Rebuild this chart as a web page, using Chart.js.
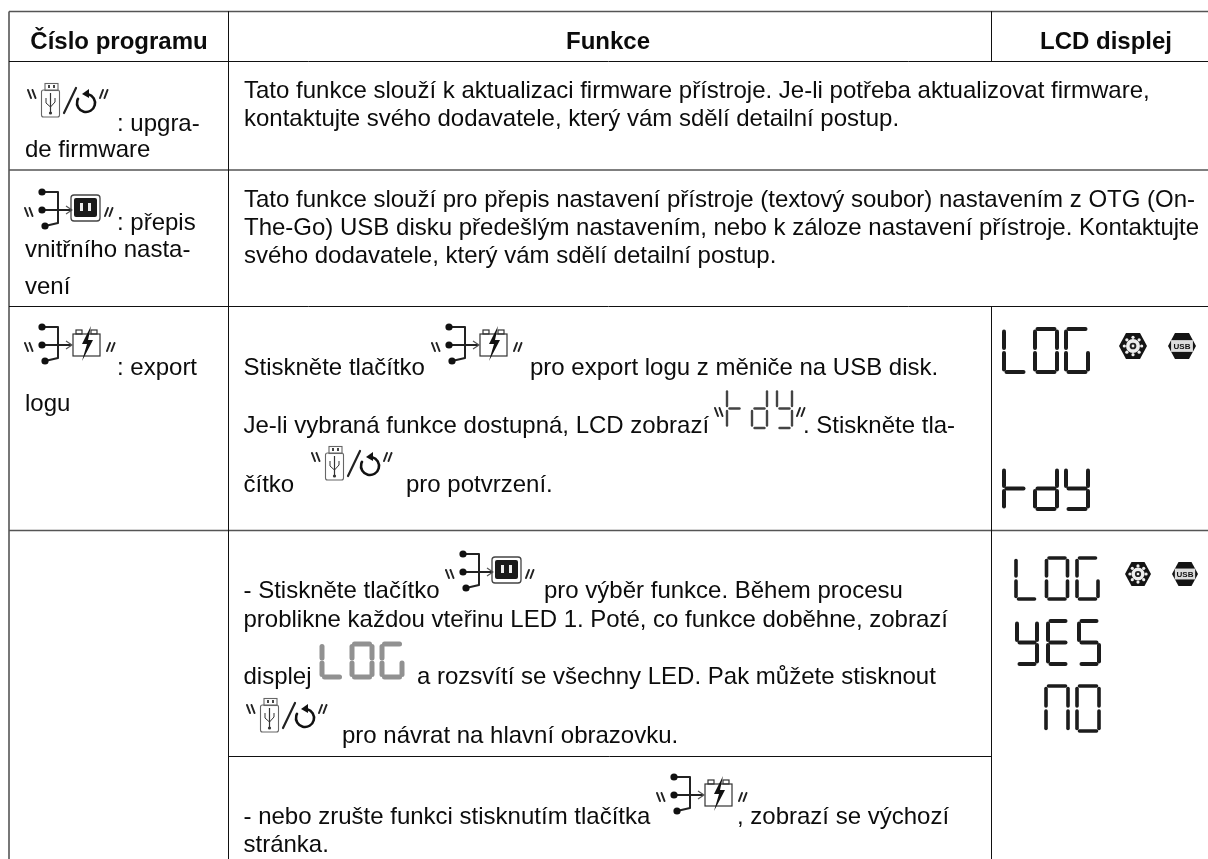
<!DOCTYPE html>
<html lang="cs">
<head>
<meta charset="utf-8">
<title>Číslo programu</title>
<script src="https://cdn.jsdelivr.net/npm/chart.js@4"></script>
<style>
  html, body { margin: 0; padding: 0; background: #fff; }
  canvas { display: block; }
</style>
</head>
<body>
<canvas id="tabla" width="1208" height="859"></canvas>
<script>
// table content
const headers = ['Číslo programu', 'Funkce', 'LCD displej'];
const bodyLines = [
    ': upgra-', 'de firmware',
    ': přepis', 'vnitřního nasta-', 'vení',
    ': export', 'logu',
    'Tato funkce slouží k aktualizaci firmware přístroje. Je-li potřeba aktualizovat firmware,',
    'kontaktujte svého dodavatele, který vám sdělí detailní postup.',
    'Tato funkce slouží pro přepis nastavení přístroje (textový soubor) nastavením z OTG (On-',
    'The-Go) USB disku předešlým nastavením, nebo k záloze nastavení přístroje. Kontaktujte',
    'svého dodavatele, který vám sdělí detailní postup.',
    'Stiskněte tlačítko', 'pro export logu z měniče na USB disk.',
    'Je-li vybraná funkce dostupná, LCD zobrazí', '. Stiskněte tla-',
    'čítko', 'pro potvrzení.',
    '- Stiskněte tlačítko', 'pro výběr funkce. Během procesu',
    'problikne každou vteřinu LED 1. Poté, co funkce doběhne, zobrazí',
    'displej', 'a rozsvítí se všechny LED. Pak můžete stisknout',
    'pro návrat na hlavní obrazovku.',
    '- nebo zrušte funkci stisknutím tlačítka', ', zobrazí se výchozí',
    'stránka.'
];
const lcdWords = ['LOG', 'tdy', 'LOG', 'YES', 'nO', 'tdy', 'LOG'];
const iconKinds = ['usbRefresh', 'usbPlug', 'usbBatt', 'usbBatt', 'usbRefresh', 'usbPlug', 'usbRefresh', 'usbBatt'];
const badgeKinds = ['gear', 'usb', 'gear', 'usb'];

// table rules, in page units
const hRuleY =    [61.5, 306.5, 756.5];
const hRuleFrom = [9, 9, 228];
const hRuleTo =   [1208, 1208, 991.5];
const softRuleY = [11.5, 170, 530.5];
const vRuleX =    [228.5, 991.5, 991.5];
const vRuleFrom = [11.5, 11.5, 306];
const vRuleTo =   [859, 61, 859];

// where things go
const headerPlace = [[119, 49], [608, 49], [1106, 49]];
const bodyPlace = [
    [117, 131], [25, 157],
    [117, 230], [25, 257], [25, 294],
    [117, 375], [25, 411],
    [244, 98], [244, 126],
    [244, 207], [244, 235], [244, 263],
    [243.5, 375], [530, 375],
    [243.5, 433], [803, 433],
    [243.5, 492], [406, 492],
    [243.5, 598], [544, 598],
    [243.5, 627],
    [243.5, 684], [417, 684],
    [342, 743],
    [243.5, 824], [737, 824],
    [243.5, 852]
];
const lcdPlace = [
    { x: 1004, y: 329, w: 22, h: 43, pitch: 31, lw: 4, color: '#1c1c1c' },
    { x: 1004, y: 468, w: 22, h: 41, pitch: 31, lw: 4, color: '#1c1c1c' },
    { x: 1016, y: 558, w: 21, h: 41, pitch: 30.5, lw: 3.6, color: '#1c1c1c' },
    { x: 1017, y: 621, w: 20, h: 43, pitch: 31, lw: 4, color: '#1c1c1c' },
    { x: 1046, y: 686, w: 22, h: 45, pitch: 31, lw: 3.6, color: '#1c1c1c' },
    { x: 727, y: 389, w: 15, h: 39, pitch: 25, lw: 2.4, color: '#444' },
    { x: 322, y: 644, w: 20, h: 33, pitch: 30, lw: 5, color: '#919191' }
];
const iconPlace = [
    [28, 83], [25, 188], [25, 323], [432, 323], [312, 446], [446, 550], [247, 698], [657, 773]
];
const badgePlace = [
    [1133, 346, 14], [1182, 346, 14], [1138, 574, 13], [1185, 574, 13]
];
const quotePlace = [[715, 408], [797, 408]];

const SEGMENTS = {
    L: 'def', O: 'abcdef', G: 'acdef', t: 'efg', d: 'bcdeg', y: 'bcdfg',
    Y: 'bcdfg', E: 'adefg', S: 'acdfg', n: 'abcef'
};

function stroke(ctx, points, width, color) {
    ctx.beginPath();
    points.forEach((p, i) => (i ? ctx.lineTo(p[0], p[1]) : ctx.moveTo(p[0], p[1])));
    ctx.lineWidth = width;
    ctx.strokeStyle = color;
    ctx.stroke();
}

function dot(ctx, x, y, r, color) {
    ctx.beginPath();
    ctx.arc(x, y, r, 0, Math.PI * 2);
    ctx.fillStyle = color;
    ctx.fill();
}

function drawLcd(ctx, word, p, x0, y0) {
    ctx.save();
    ctx.lineCap = 'round';
    const g = 2.5, w = p.w, h = p.h;
    const seg = {
        a: [[g, 0], [w - g, 0]],
        b: [[w, g], [w, h / 2 - g]],
        c: [[w, h / 2 + g], [w, h - g]],
        d: [[g, h], [w - g, h]],
        e: [[0, h / 2 + g], [0, h - g]],
        f: [[0, g], [0, h / 2 - g]],
        g: [[g, h / 2], [w - g, h / 2]]
    };
    [...word].forEach((ch, i) => {
        for (const s of SEGMENTS[ch]) {
            const pts = seg[s].map(q => [x0 + i * p.pitch + q[0], y0 + q[1]]);
            stroke(ctx, pts, p.lw, p.color);
        }
    });
    ctx.restore();
}

// little "\\" and "//" marks around the key symbols
function quotes(ctx, x, y, right) {
    ctx.save();
    ctx.lineCap = 'round';
    for (let i = 0; i < 2; i++) {
        const dx = i * 4.5;
        stroke(ctx, [[x + dx + (right ? 0 : 3), y + 8], [x + dx + (right ? 3 : 0), y]], 2, '#222');
    }
    ctx.restore();
}

function usbTree(ctx) {
    ctx.save();
    ctx.lineJoin = 'round';
    stroke(ctx, [[17, 4], [33, 4], [33, 35], [20, 38]], 2, '#222');
    stroke(ctx, [[17, 22], [46, 22]], 2, '#222');
    stroke(ctx, [[41, 18], [47, 22], [41, 26]], 1.2, '#555');
    dot(ctx, 17, 4, 3.6, '#111');
    dot(ctx, 17, 22, 3.6, '#111');
    dot(ctx, 20, 38, 3.6, '#111');
    ctx.restore();
}

const ICONS = {
    usbRefresh(ctx) {
        quotes(ctx, 0, 7, false);
        // stick
        ctx.strokeStyle = '#666';
        ctx.lineWidth = 1.1;
        ctx.strokeRect(17, 0.5, 13, 7);
        ctx.beginPath();
        ctx.roundRect(13.5, 7, 18, 27, 2);
        ctx.stroke();
        ctx.fillStyle = '#444';
        ctx.fillRect(20, 2, 2, 3);
        ctx.fillRect(25, 2, 2, 3);
        stroke(ctx, [[22.5, 10], [22.5, 30]], 1.2, '#333');
        stroke(ctx, [[18, 15], [18, 20], [22.5, 24], [27, 19], [27, 15]], 1, '#333');
        dot(ctx, 22.5, 30, 1.6, '#333');
        // slash
        ctx.save();
        ctx.lineCap = 'round';
        stroke(ctx, [[36, 30], [48, 5]], 2.2, '#222');
        // refresh arrow
        ctx.beginPath();
        ctx.arc(58, 20, 9, -Math.PI * 0.42, Math.PI * 1.15);
        ctx.lineWidth = 2.6;
        ctx.strokeStyle = '#111';
        ctx.stroke();
        ctx.beginPath();
        ctx.moveTo(54, 11);
        ctx.lineTo(61, 6);
        ctx.lineTo(61, 15);
        ctx.closePath();
        ctx.fillStyle = '#111';
        ctx.fill();
        ctx.restore();
        quotes(ctx, 72, 7, true);
    },
    usbPlug(ctx) {
        quotes(ctx, 0, 20, false);
        usbTree(ctx);
        ctx.beginPath();
        ctx.roundRect(46, 7, 29, 26, 3);
        ctx.lineWidth = 1.3;
        ctx.strokeStyle = '#444';
        ctx.stroke();
        ctx.beginPath();
        ctx.roundRect(49, 10, 23, 19, 2);
        ctx.fillStyle = '#1a1a1a';
        ctx.fill();
        ctx.fillStyle = '#eee';
        ctx.fillRect(55, 15, 3, 8);
        ctx.fillRect(63, 15, 3, 8);
        quotes(ctx, 80, 20, true);
    },
    usbBatt(ctx) {
        quotes(ctx, 0, 20, false);
        usbTree(ctx);
        ctx.lineWidth = 1.2;
        ctx.strokeStyle = '#333';
        ctx.strokeRect(48, 11, 27, 22);
        ctx.strokeRect(51, 7, 6, 4);
        ctx.strokeRect(66, 7, 6, 4);
        ctx.beginPath();
        ctx.moveTo(66, 3);
        ctx.lineTo(57, 21);
        ctx.lineTo(62, 21);
        ctx.lineTo(57, 38);
        ctx.lineTo(68, 17);
        ctx.lineTo(63, 17);
        ctx.closePath();
        ctx.fillStyle = '#111';
        ctx.fill();
        quotes(ctx, 82, 20, true);
    }
};

function hexagon(ctx, x, y, r) {
    ctx.beginPath();
    ctx.moveTo(x - r, y);
    ctx.lineTo(x - r * 0.5, y - r * 0.92);
    ctx.lineTo(x + r * 0.5, y - r * 0.92);
    ctx.lineTo(x + r, y);
    ctx.lineTo(x + r * 0.5, y + r * 0.92);
    ctx.lineTo(x - r * 0.5, y + r * 0.92);
    ctx.closePath();
    ctx.fillStyle = '#141414';
    ctx.fill();
}

function drawBadge(ctx, kind, x, y, r) {
    hexagon(ctx, x, y, r);
    if (kind === 'gear') {
        for (let i = 0; i < 8; i++) {
            const a = i * Math.PI / 4;
            dot(ctx, x + Math.cos(a) * r * 0.62, y + Math.sin(a) * r * 0.62, 1.6, '#eee');
        }
        dot(ctx, x, y, r * 0.5, '#eee');
        dot(ctx, x, y, r * 0.24, '#222');
        dot(ctx, x, y, r * 0.1, '#eee');
    } else {
        ctx.fillStyle = '#ddd';
        ctx.fillRect(x - r * 0.78, y - r * 0.42, r * 1.56, r * 0.84);
        ctx.fillStyle = '#111';
        ctx.font = 'bold 8px "Liberation Sans"';
        ctx.textAlign = 'center';
        ctx.textBaseline = 'middle';
        ctx.fillText('USB', x, y + 0.5);
    }
}

const tablePlugin = {
    id: 'tablePlugin',
    afterDatasetsDraw(chart) {
        const ctx = chart.ctx;
        const sx = chart.scales.x, sy = chart.scales.y;
        const px = v => sx.getPixelForValue(v);
        const py = v => sy.getPixelForValue(v);

        ctx.save();
        ctx.textBaseline = 'alphabetic';
        ctx.fillStyle = '#0c0c0c';

        ctx.font = 'bold 24px "Liberation Sans"';
        ctx.textAlign = 'center';
        headers.forEach((t, i) => ctx.fillText(t, px(headerPlace[i][0]), py(headerPlace[i][1])));

        ctx.font = '24px "Liberation Sans"';
        ctx.textAlign = 'left';
        bodyLines.forEach((t, i) => ctx.fillText(t, px(bodyPlace[i][0]), py(bodyPlace[i][1])));

        lcdWords.forEach((w, i) => drawLcd(ctx, w, lcdPlace[i], px(lcdPlace[i].x), py(lcdPlace[i].y)));

        iconKinds.forEach((k, i) => {
            ctx.save();
            ctx.translate(px(iconPlace[i][0]), py(iconPlace[i][1]));
            ICONS[k](ctx);
            ctx.restore();
        });

        quotes(ctx, px(quotePlace[0][0]), py(quotePlace[0][1]), false);
        quotes(ctx, px(quotePlace[1][0]), py(quotePlace[1][1]), true);

        badgeKinds.forEach((k, i) => {
            const b = badgePlace[i];
            drawBadge(ctx, k, px(b[0]), py(b[1]), b[2]);
        });
        ctx.restore();
    }
};

// rules as one broken line, null ends each stroke
const hRulePoints = hRuleY.flatMap((y, i) => [{ x: hRuleFrom[i], y }, { x: hRuleTo[i], y }, { x: null, y: null }]);
const softRulePoints = softRuleY.flatMap(y => [{ x: 9, y }, { x: 1208, y }, { x: null, y: null }]);
const vRulePoints = vRuleX.flatMap((x, i) => [{ x, y: vRuleFrom[i] }, { x, y: vRuleTo[i] }, { x: null, y: null }]);
// the outer left edge is a thicker grey line on the scan
const leftEdge = [{ x: 9, y: 11.5 }, { x: 9, y: 859 }];

new Chart(document.getElementById('tabla').getContext('2d'), {
    type: 'scatter',
    data: {
        datasets: [
            { data: hRulePoints, showLine: true, spanGaps: false, borderColor: '#111', borderWidth: 1, pointRadius: 0 },
            { data: vRulePoints, showLine: true, spanGaps: false, borderColor: '#111', borderWidth: 1, pointRadius: 0 },
            { data: softRulePoints, showLine: true, spanGaps: false, borderColor: '#555', borderWidth: 1.5, pointRadius: 0 },
            { data: leftEdge, showLine: true, borderColor: '#777', borderWidth: 2, pointRadius: 0 }
        ]
    },
    options: {
        responsive: false,
        animation: false,
        layout: { padding: 0 },
        plugins: { legend: { display: false }, tooltip: { enabled: false }, title: { display: false } },
        scales: {
            x: { type: 'linear', min: 0, max: 1208, display: false },
            y: { type: 'linear', min: 0, max: 859, reverse: true, display: false }
        }
    },
    plugins: [tablePlugin]
});
</script>
</body>
</html>
